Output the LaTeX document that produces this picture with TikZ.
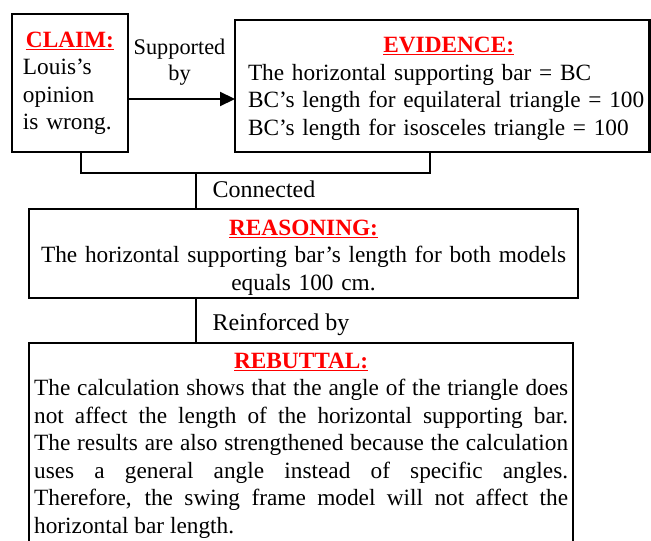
\documentclass[tikz,border=0pt]{standalone}
\usepackage{fontspec}
\setmainfont{Liberation Serif}
\usetikzlibrary{arrows.meta,positioning}

\newcommand{\boxhead}[1]{\textcolor{red}{\textbf{\underline{#1}}}}

\tikzset{
  box/.style={draw, rectangle, line width=2.2pt, outer sep=0pt, anchor=north west,
    inner ysep=1pt, font=\fontsize{23.3}{27.5}\selectfont},
  lbl/.style={inner sep=0pt, font=\fontsize{24}{27.5}\selectfont},
  link/.style={line width=2.2pt},
}

\begin{document}
\begin{tikzpicture}[x=1pt, y=-1pt]
  \useasboundingbox (0,0) rectangle (651,541);

  \node[box, align=left, inner xsep=11pt, text width=94pt, text height=32pt, text depth=104pt] (claim) at (12,14)
    {\hfill\boxhead{CLAIM:}\hfill\null\\ Louis’s\\ opinion\\ is wrong.};
  \node[box, align=left, inner xsep=0pt, text width=414.5pt, text height=31.7pt, text depth=98pt] (evidence) at (235,20)
    {\leftskip=13pt \hfill\boxhead{EVIDENCE:}\hfill\null\\
     The horizontal supporting bar = BC\\
     BC’s length for equilateral triangle = 100\\
     BC’s length for isosceles triangle = 100\par};
  \node[box, align=center, inner xsep=6pt, text width=536.5pt, text height=24.7pt, text depth=62pt] (reasoning) at (29.3,209.3)
    {\boxhead{REASONING:}\\
     The horizontal supporting bar’s length for both models\\
     equals 100 cm.};
  \node[box, align=justify, inner xsep=4.85pt, text width=534pt, text height=24.6pt, text depth=210pt] (rebuttal) at (29.3,342.7)
    {\tolerance=10000 \hyphenpenalty=10000
     \hfill\boxhead{REBUTTAL:}\hfill\null\\
     The calculation shows that the angle of the triangle does\linebreak
     not affect the length of the horizontal supporting bar.\linebreak
     The results are also strengthened because the calculation\linebreak
     uses a general angle instead of specific angles.\linebreak
     Therefore, the swing frame model will not affect the\linebreak
     horizontal bar length.};

  \node[lbl, font=\fontsize{22.3}{26}\selectfont, align=center, anchor=base] (supported) at (179.5,80.5) {Supported\\ by};
  \node[lbl, anchor=base west] (connected) at (212.5,197.5) {Connected};
  \node[lbl, anchor=base west] (reinforced) at (212.5,330) {Reinforced by};

  \coordinate (arr) at ([yshift=-16pt]claim.east);
  \coordinate (join) at (196,173);
  \draw[link, -{Triangle[length=15pt, width=14pt]}] (arr) -- (arr -| evidence.west);
  \draw[link] ([xshift=68.7pt]claim.south west) |- (join) -| ([xshift=195pt]evidence.south west);
  \draw[link] (join) -- (join |- reasoning.north);
  \draw[link] (reasoning.south -| join) -- (rebuttal.north -| join);
\end{tikzpicture}
\end{document}
